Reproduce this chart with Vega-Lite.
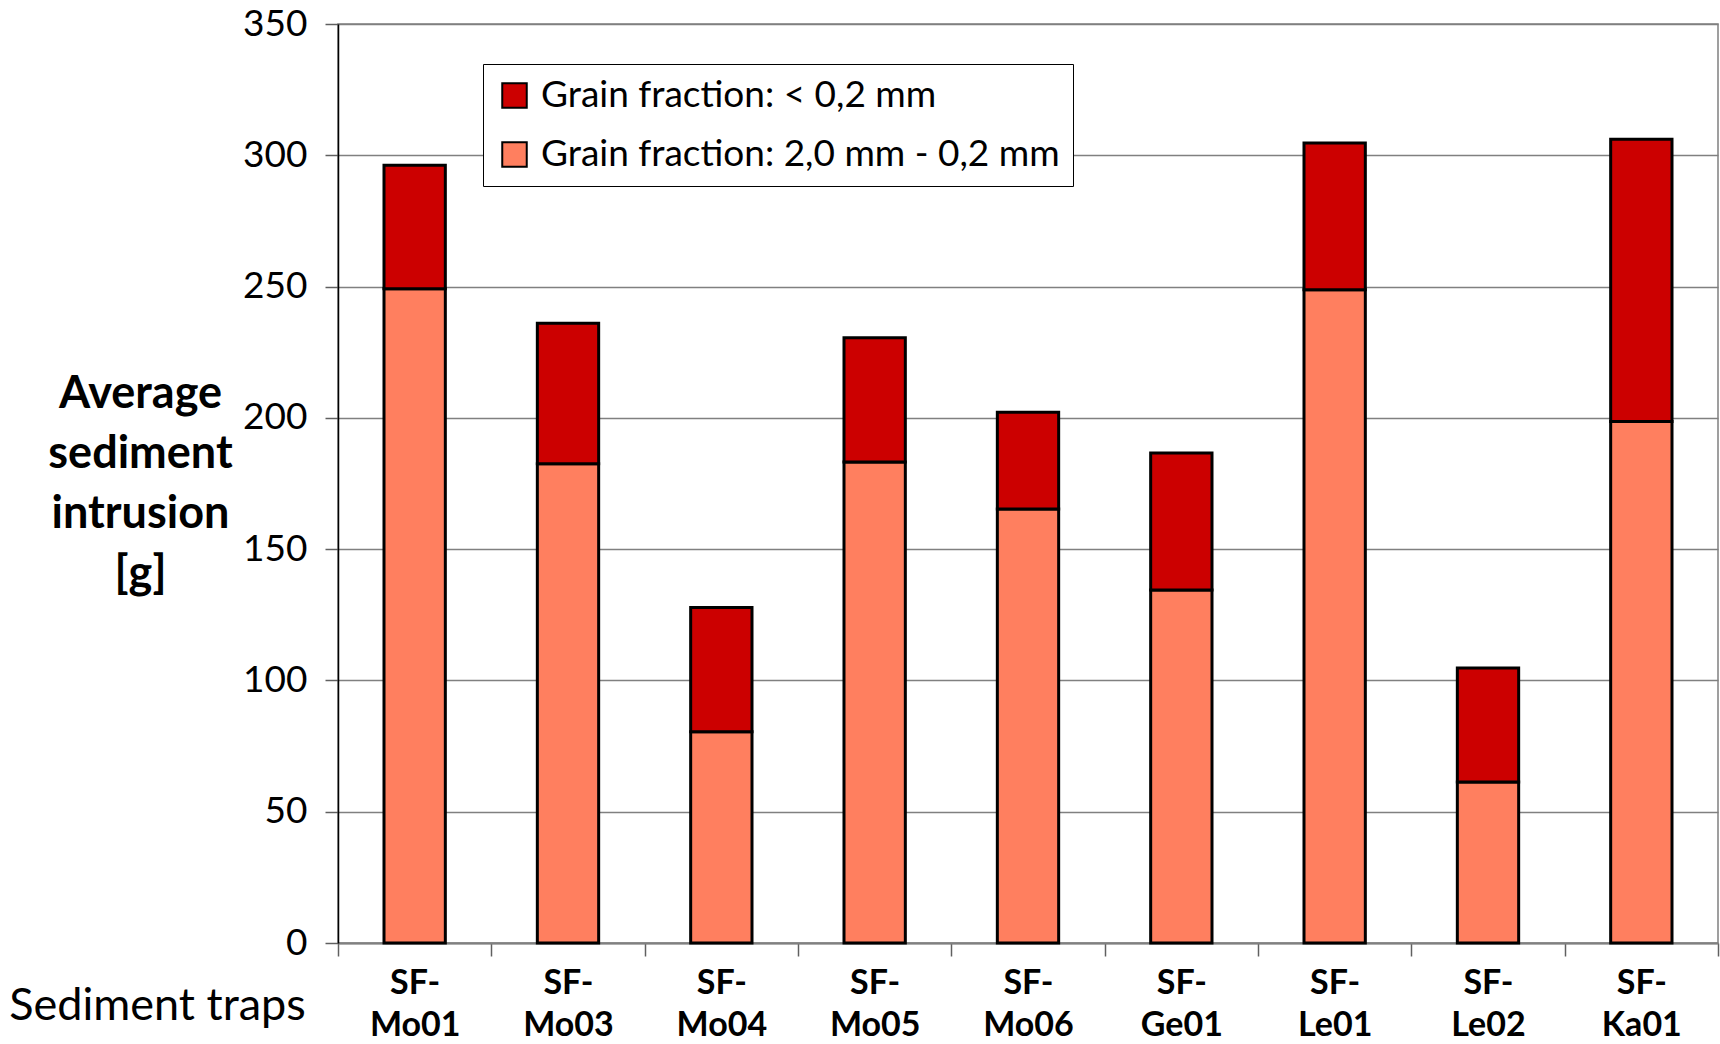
{
  "$schema": "https://vega.github.io/schema/vega-lite/v6.json",
  "width": 1380,
  "height": 919,
  "autosize": "none",
  "padding": {"left": 338, "top": 24, "right": 2, "bottom": 101},
  "background": "white",
  "config": {"font": "Lato", "view": {"stroke": "#808080", "strokeWidth": 1.5}},
  "data": {
    "values": [
      {"trap": "SF-Mo01", "fraction": "Grain fraction: 2,0 mm - 0,2 mm", "value": 249.2},
      {"trap": "SF-Mo01", "fraction": "Grain fraction: < 0,2 mm", "value": 47.0},
      {"trap": "SF-Mo03", "fraction": "Grain fraction: 2,0 mm - 0,2 mm", "value": 182.5},
      {"trap": "SF-Mo03", "fraction": "Grain fraction: < 0,2 mm", "value": 53.5},
      {"trap": "SF-Mo04", "fraction": "Grain fraction: 2,0 mm - 0,2 mm", "value": 80.5},
      {"trap": "SF-Mo04", "fraction": "Grain fraction: < 0,2 mm", "value": 47.3},
      {"trap": "SF-Mo05", "fraction": "Grain fraction: 2,0 mm - 0,2 mm", "value": 183.2},
      {"trap": "SF-Mo05", "fraction": "Grain fraction: < 0,2 mm", "value": 47.3},
      {"trap": "SF-Mo06", "fraction": "Grain fraction: 2,0 mm - 0,2 mm", "value": 165.3},
      {"trap": "SF-Mo06", "fraction": "Grain fraction: < 0,2 mm", "value": 36.8},
      {"trap": "SF-Ge01", "fraction": "Grain fraction: 2,0 mm - 0,2 mm", "value": 134.4},
      {"trap": "SF-Ge01", "fraction": "Grain fraction: < 0,2 mm", "value": 52.2},
      {"trap": "SF-Le01", "fraction": "Grain fraction: 2,0 mm - 0,2 mm", "value": 248.8},
      {"trap": "SF-Le01", "fraction": "Grain fraction: < 0,2 mm", "value": 55.9},
      {"trap": "SF-Le02", "fraction": "Grain fraction: 2,0 mm - 0,2 mm", "value": 61.3},
      {"trap": "SF-Le02", "fraction": "Grain fraction: < 0,2 mm", "value": 43.4},
      {"trap": "SF-Ka01", "fraction": "Grain fraction: 2,0 mm - 0,2 mm", "value": 198.6},
      {"trap": "SF-Ka01", "fraction": "Grain fraction: < 0,2 mm", "value": 107.5}
    ]
  },
  "mark": {"type": "bar", "width": {"band": 0.4}, "stroke": "black", "strokeWidth": 3},
  "encoding": {
    "x": {
      "field": "trap",
      "type": "nominal",
      "sort": null,
      "scale": {"paddingInner": 0, "paddingOuter": 0},
      "axis": {
        "title": "Sediment traps",
        "titleFontSize": 45,
        "titleFontWeight": "normal",
        "titleColor": "black",
        "titleX": -181,
        "titleY": 62,
        "titleAlign": "center",
        "titleBaseline": "middle",
        "labelAngle": 0,
        "labelExpr": "datum.label ? ['SF-', substring(datum.label, 3)] : ''",
        "labelFontSize": 34,
        "labelFontWeight": "bold",
        "labelColor": "black",
        "labelLineHeight": 42,
        "labelPadding": 10,
        "labelBaseline": "top",
        "tickBand": "extent",
        "tickSize": 13,
        "tickColor": "#606060",
        "tickWidth": 1.5,
        "domainColor": "#808080",
        "domainWidth": 2,
        "grid": false
      }
    },
    "y": {
      "field": "value",
      "type": "quantitative",
      "stack": "zero",
      "scale": {"domain": [0, 350], "nice": false},
      "axis": {
        "title": ["Average", "sediment", "intrusion", "[g]"],
        "titleAngle": 0,
        "titleAlign": "center",
        "titleBaseline": "middle",
        "titleX": -198,
        "titleY": 369,
        "titleFontSize": 45,
        "titleFontWeight": "bold",
        "titleLineHeight": 60,
        "titleColor": "black",
        "values": [0, 50, 100, 150, 200, 250, 300, 350],
        "labelFontSize": 37,
        "labelColor": "black",
        "labelPadding": 18,
        "tickSize": 13,
        "tickColor": "#606060",
        "tickWidth": 1.5,
        "domainColor": "black",
        "domainWidth": 1.5,
        "grid": true,
        "gridColor": "#808080",
        "gridWidth": 1.5
      }
    },
    "color": {
      "field": "fraction",
      "type": "nominal",
      "scale": {
        "domain": ["Grain fraction: < 0,2 mm", "Grain fraction: 2,0 mm - 0,2 mm"],
        "range": ["#CC0000", "#FF7F5F"]
      },
      "legend": {
        "title": null,
        "orient": "none",
        "legendX": 145,
        "legendY": 40,
        "direction": "vertical",
        "symbolType": "square",
        "symbolSize": 600,
        "symbolStrokeColor": "black",
        "symbolStrokeWidth": 2,
        "symbolOpacity": 1,
        "labelFontSize": 37,
        "labelColor": "black",
        "labelOffset": 8,
        "labelLimit": 1000,
        "rowPadding": 21,
        "padding": 13,
        "strokeColor": "black",
        "fillColor": "white"
      }
    },
    "order": {"field": "fraction", "sort": "ascending"}
  }
}
